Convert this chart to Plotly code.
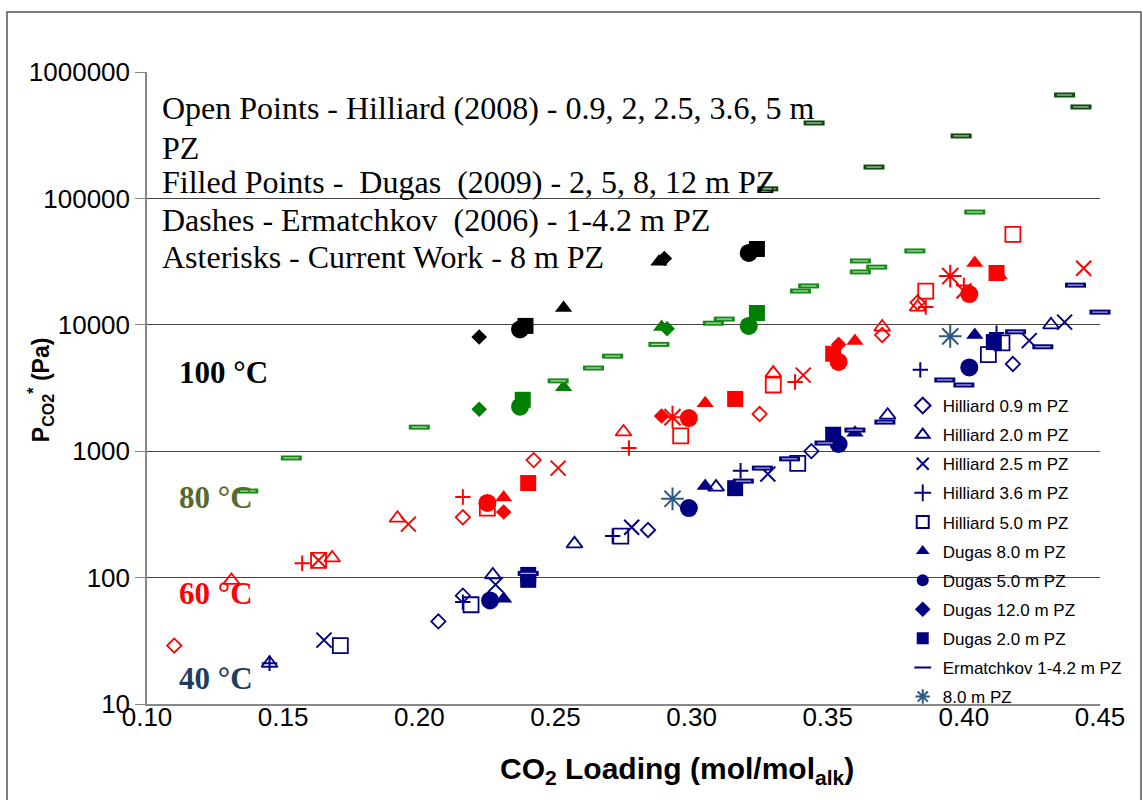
import plotly.graph_objects as go

# CO2 loading (mol/mol alk) and equilibrium CO2 partial pressure (Pa),
# keyed by temperature (deg C) for each data source.
hilliard_09 = {
    "40": ([0.207, 0.216, 0.284, 0.344, 0.418], [45, 72, 238, 1000, 4900]),
    "60": ([0.110, 0.216, 0.242, 0.325, 0.370, 0.383], [29, 300, 850, 1970, 8300, 15000]),
}
hilliard_20 = {
    "40": ([0.145, 0.227, 0.257, 0.309, 0.372, 0.432], [21, 105, 185, 520, 1930, 10000]),
    "60": ([0.131, 0.168, 0.192, 0.275, 0.330, 0.370, 0.383], [95, 143, 295, 1420, 4150, 9600, 13800]),
}
hilliard_25 = {
    "40": ([0.165, 0.228, 0.278, 0.328, 0.424, 0.437], [32, 88, 250, 660, 7500, 10500]),
    "60": ([0.163, 0.196, 0.251, 0.341, 0.400, 0.444], [137, 265, 735, 4000, 18500, 28000]),
}
hilliard_36 = {
    "40": ([0.145, 0.216, 0.271, 0.318, 0.384, 0.412], [21, 64, 213, 700, 4400, 8600]),
    "60": ([0.157, 0.216, 0.277, 0.338, 0.386, 0.400], [130, 434, 1060, 3530, 13800, 20500]),
}
hilliard_50 = {
    "40": ([0.171, 0.219, 0.274, 0.339, 0.409, 0.414], [29, 61, 213, 800, 5800, 7200]),
    "60": ([0.163, 0.225, 0.296, 0.330, 0.386, 0.418], [137, 355, 1320, 3340, 18500, 52000]),
}
dugas_80 = {
    "40": ([0.231, 0.305, 0.360, 0.404], [68, 530, 1400, 8300]),
    "60": ([0.231, 0.305, 0.360, 0.404, 0.413], [430, 2400, 7450, 30800, 24500]),
    "80": ([0.253, 0.289], [3200, 9600]),
    "100": ([0.253, 0.288], [13600, 31500]),
}
dugas_50 = {
    "40": ([0.226, 0.299, 0.354, 0.402], [66, 355, 1140, 4600]),
    "60": ([0.225, 0.299, 0.354, 0.402], [390, 1830, 5080, 17500]),
    "80": ([0.237, 0.321], [2250, 9800]),
    "100": ([0.237, 0.321], [9200, 37000]),
}
dugas_120 = {
    "60": ([0.231, 0.289, 0.354], [330, 1900, 7000]),
    "80": ([0.222, 0.291], [2150, 9300]),
    "100": ([0.222, 0.290], [8000, 33500]),
}
dugas_20 = {
    "40": ([0.240, 0.240, 0.316, 0.352, 0.411], [105, 96, 510, 1350, 7300]),
    "60": ([0.240, 0.316, 0.352, 0.412], [560, 2590, 5900, 25700]),
    "80": ([0.238, 0.324], [2550, 12400]),
    "100": ([0.239, 0.324], [9800, 39800]),
}
ermatchkov = {
    "40": ([0.240, 0.319, 0.326, 0.336, 0.349, 0.360, 0.371, 0.393, 0.400,
            0.419, 0.429, 0.441, 0.450],
           [108, 580, 735, 870, 1160, 1470, 1700, 3660, 3340,
            8800, 6700, 20600, 12600]),
    "80": ([0.137, 0.153, 0.200, 0.251, 0.264, 0.271, 0.288, 0.308, 0.312,
            0.340, 0.343, 0.362, 0.362, 0.368, 0.382, 0.404],
           [484, 884, 1550, 3600, 4550, 5650, 7000, 10300, 11100,
            18500, 20300, 32000, 26200, 28600, 38400, 78000]),
    "100": ([0.328, 0.345, 0.367, 0.399, 0.437, 0.443],
            [119000, 395000, 177000, 312000, 658000, 529000]),
}
current_work = {
    "40": ([0.293, 0.395], [420, 8100]),
    "60": ([0.293, 0.395], [1860, 24300]),
}

temperatures = ["40", "60", "80", "100"]
temp_colors = {"40": "#000080", "60": "#ff0000", "80": "#008000", "100": "#000000"}
dash_colors = {"40": "#000080", "80": "#148a14", "100": "#0b4a0b"}
star_colors = {"40": "#2c5a85", "60": "#ff0000"}

y_tickvals = [10, 100, 1000, 10000, 100000, 1000000]
y_ticktext = ["10", "100", "1000", "10000", "100000", "1000000"]

# name, data, symbol, size, stroke width
series = [
    ("Hilliard 0.9 m PZ", hilliard_09, "diamond-open", 11, 1.8),
    ("Hilliard 2.0 m PZ", hilliard_20, "triangle-up-open", 14, 1.8),
    ("Hilliard 2.5 m PZ", hilliard_25, "x-thin-open", 15, 2),
    ("Hilliard 3.6 m PZ", hilliard_36, "cross-thin-open", 11, 2),
    ("Hilliard 5.0 m PZ", hilliard_50, "square-open", 15, 1.8),
    ("Dugas 8.0 m PZ", dugas_80, "triangle-up", 15, 0),
    ("Dugas 5.0 m PZ", dugas_50, "circle", 18, 0),
    ("Dugas 12.0 m PZ", dugas_120, "diamond", 12, 0),
    ("Dugas 2.0 m PZ", dugas_20, "square", 16, 0),
    ("Ermatchkov 1-4.2 m PZ", ermatchkov, "line-ew", 15, 5),
    ("8.0 m PZ", current_work, "asterisk-open", 19, 2),
]

fig = go.Figure()
for name, data, symbol, size, lw in series:
    for t in temperatures:
        if t not in data and t != "40":
            continue
        xs, ys = data.get(t, ([None], [None]))
        if symbol == "line-ew":
            color = dash_colors[t]
        elif symbol == "asterisk-open":
            color = star_colors[t]
        else:
            color = temp_colors[t]
        fig.add_trace(go.Scatter(
            x=xs, y=ys, mode="markers", name=name,
            legendgroup=name, showlegend=(t == "40"),
            cliponaxis=False,
            marker=dict(symbol=symbol, size=size, color=color,
                        line=dict(color=color, width=lw)),
        ))
        if symbol == "line-ew":
            # light core inside each dash
            fig.add_trace(go.Scatter(
                x=xs, y=ys, mode="markers", legendgroup=name, showlegend=False,
                cliponaxis=False, hoverinfo="skip",
                marker=dict(symbol="line-ew", size=11,
                            line=dict(color="rgba(255,255,255,0.7)", width=1.2)),
            ))

serif = "Liberation Serif"
sans = "Liberation Sans"

notes = [
    ("Open Points - Hilliard (2008) - 0.9, 2, 2.5, 3.6, 5 m", 0.943),
    ("PZ", 0.880),
    ("Filled Points -\u00a0 Dugas\u00a0 (2009) - 2, 5, 8, 12 m PZ", 0.826),
    ("Dashes - Ermatchkov\u00a0 (2006) - 1-4.2 m PZ", 0.766),
    ("Asterisks - Current Work - 8 m PZ", 0.707),
]
annotations = [
    dict(text=txt, x=0.0137, y=yy, xref="paper", yref="paper",
         xanchor="left", yanchor="middle", showarrow=False,
         font=dict(family=serif, size=32, color="#000000"))
    for txt, yy in notes
]

temp_labels = [
    ("100 °C", 0.524, "#000000"),
    ("80 °C", 0.3275, "#56692e"),
    ("60 °C", 0.1756, "#ff0000"),
    ("40 °C", 0.0411, "#1f3b5e"),
]
for txt, yy, col in temp_labels:
    annotations.append(dict(
        text="<b>" + txt + "</b>", x=0.032, y=yy, xref="paper", yref="paper",
        xanchor="left", yanchor="middle", showarrow=False,
        font=dict(family=serif, size=31, color=col)))

annotations.append(dict(
    text="<b>CO<sub>2</sub> Loading (mol/mol<sub>alk</sub>)</b>",
    x=0.556, y=-0.106, xref="paper", yref="paper", xanchor="center",
    yanchor="middle", showarrow=False,
    font=dict(family=sans, size=30, color="#000000")))
annotations.append(dict(
    text="<b>P<sub>CO2</sub><sup>*</sup> (Pa)</b>",
    x=-0.112, y=0.497, xref="paper", yref="paper", xanchor="center",
    yanchor="middle", showarrow=False, textangle=-90,
    font=dict(family=sans, size=23, color="#000000")))

fig.update_layout(
    width=1143, height=800,
    margin=dict(l=147, r=43, t=72, b=96),
    paper_bgcolor="white", plot_bgcolor="white",
    annotations=annotations,
    shapes=[
        # outer chart frame
        dict(type="rect", xref="paper", yref="paper",
             x0=-0.1469, x1=1.043, y0=-0.2, y1=1.095,
             line=dict(color="#555555", width=1.5), layer="below"),
        # white panel behind the legend, hiding the gridlines there
        dict(type="rect", xref="paper", yref="paper",
             x0=0.813, x1=1.04, y0=0.004, y1=0.494,
             fillcolor="white", line=dict(width=0), layer="between"),
    ],
    legend=dict(x=0.793, y=0.5, xanchor="left", yanchor="top",
                bgcolor="rgba(255,255,255,0)", borderwidth=0, tracegroupgap=4,
                traceorder="grouped", itemsizing="constant",
                font=dict(family=sans, size=17, color="#000000")),
    xaxis=dict(range=[0.10, 0.45], tick0=0.10, dtick=0.05, tickformat=".2f",
               showgrid=False, zeroline=False, showline=True,
               linecolor="#888888", linewidth=1.5, ticks="",
               ticklabelstandoff=-11,
               tickfont=dict(family=sans, size=26, color="#000000")),
    yaxis=dict(type="log", range=[1, 6], tickvals=y_tickvals, ticktext=y_ticktext,
               showgrid=True, gridcolor="#444444", gridwidth=1.3,
               zeroline=False, showline=True, linecolor="#888888", linewidth=1.5,
               ticks="outside", ticklen=10, tickcolor="#888888",
               tickfont=dict(family=sans, size=26, color="#000000")),
)

fig.write_html("out.html")
